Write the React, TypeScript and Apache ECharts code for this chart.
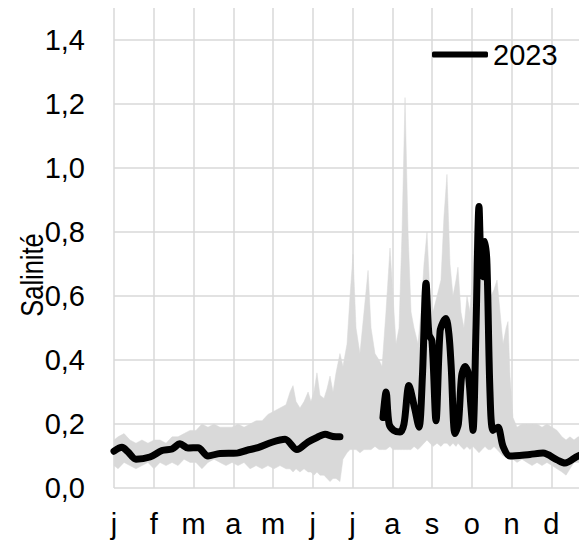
import React, { useEffect, useRef } from "react";
import * as echarts from "echarts";

const MONTHS = ["j", "f", "m", "a", "m", "j", "j", "a", "s", "o", "n", "d"];
const SERIES_NAME = "2023";
const Y_TITLE = "Salinité";

// Min-max envelope of earlier years (day of year, low, high)
const bandDay = [
  0, 3.1, 7.7, 12.2, 16.8, 21.4, 26.0, 30.6, 35.2, 39.8, 44.4, 49.0, 53.6, 58.2, 62.7, 67.3, 71.9,
  76.5, 81.1, 85.7, 90.3, 94.9, 99.5, 104.1, 108.7, 113.3, 117.8, 122.4, 127.0, 131.6, 134.7,
  137.0, 139.3, 142.3, 145.4, 148.5, 150.7, 153.0, 155.3, 157.6, 160.7, 163.0, 165.3, 167.6,
  169.9, 172.9, 175.2, 178.3, 180.6, 182.9, 185.2, 188.2, 191.3, 194.4, 196.7, 199.7, 202.8,
  205.1, 208.1, 211.2, 213.5, 215.8, 218.1, 220.4, 222.7, 225.0, 227.3, 229.6, 232.6, 234.9,
  237.2, 239.5, 241.8, 244.1, 247.2, 250.2, 252.5, 254.8, 257.1, 259.4, 261.7, 263.2, 265.5,
  267.8, 270.1, 272.4, 274.7, 277.0, 279.3, 281.6, 283.9, 286.2, 288.5, 290.8, 293.1, 295.4,
  297.7, 300.0, 301.5, 303.0, 305.3, 308.4, 312.2, 316.0, 319.9, 323.7, 327.5, 331.3, 335.2,
  339.0, 342.8, 345.9, 348.9, 352.0, 355.1, 365,
];
const bandLow = [
  0.07, 0.06, 0.08, 0.07, 0.06, 0.07, 0.08, 0.06, 0.08, 0.07, 0.08, 0.07, 0.09, 0.08, 0.08, 0.06,
  0.08, 0.09, 0.08, 0.07, 0.08, 0.07, 0.08, 0.06, 0.07, 0.06, 0.07, 0.06, 0.07, 0.06, 0.06,
  0.05, 0.06, 0.05, 0.06, 0.05, 0.05, 0.04, 0.05, 0.04, 0.04, 0.03, 0.02, 0.03, 0.03, 0.02,
  0.09, 0.11, 0.12, 0.12, 0.12, 0.11, 0.12, 0.12, 0.12, 0.13, 0.12, 0.12, 0.12, 0.13, 0.12,
  0.12, 0.12, 0.12, 0.12, 0.12, 0.12, 0.13, 0.12, 0.13, 0.14, 0.15, 0.14, 0.13, 0.14, 0.13,
  0.14, 0.14, 0.13, 0.14, 0.13, 0.14, 0.13, 0.12, 0.13, 0.12, 0.13, 0.12, 0.11, 0.12, 0.13,
  0.12, 0.12, 0.13, 0.12, 0.11, 0.1, 0.1, 0.09, 0.09, 0.09, 0.08, 0.09, 0.08, 0.07, 0.08, 0.07,
  0.08, 0.07, 0.06, 0.05, 0.04, 0.06, 0.08, 0.08, 0.08,
];
const bandHigh = [
  0.15, 0.16, 0.17, 0.15, 0.14, 0.15, 0.14, 0.15, 0.15, 0.14, 0.16, 0.16, 0.17, 0.18, 0.18, 0.2,
  0.19, 0.2, 0.19, 0.19, 0.19, 0.2, 0.19, 0.2, 0.21, 0.21, 0.23, 0.24, 0.25, 0.26, 0.3,
  0.32, 0.27, 0.25, 0.27, 0.3, 0.27, 0.3, 0.36, 0.29, 0.28, 0.31, 0.35, 0.3, 0.36, 0.42,
  0.38, 0.45, 0.6, 0.73, 0.5, 0.42, 0.55, 0.68, 0.5, 0.42, 0.4, 0.38, 0.55, 0.75, 0.6,
  0.45, 0.5, 0.8, 1.22, 0.8, 0.55, 0.5, 0.45, 0.55, 0.7, 0.8, 0.6, 0.55, 0.6, 0.65,
  0.85, 0.98, 0.7, 0.6, 0.65, 0.69, 0.55, 0.5, 0.6, 0.55, 0.7, 0.85, 0.89, 0.8, 0.75,
  0.7, 0.6, 0.62, 0.65, 0.55, 0.45, 0.5, 0.52, 0.35, 0.22, 0.19, 0.2, 0.2, 0.2, 0.2, 0.19,
  0.2, 0.19, 0.18, 0.16, 0.15, 0.16, 0.15, 0.16, 0.16,
];

// 2023 salinity, first part (Jan - Jun)
const line1Day = [
  0, 6.1, 10.7, 16.8, 27.5, 36.7, 44.4, 50.5, 56.6, 64.3, 71.9, 81.1, 94.1, 101.8, 110.2,
  120.9, 130.9, 140.0, 148.5, 155.3, 161.5, 167.6, 172.9,
];
const line1Val = [
  0.115, 0.127, 0.113, 0.09, 0.097, 0.117, 0.122, 0.138, 0.125, 0.126, 0.1, 0.108, 0.109,
  0.118, 0.126, 0.143, 0.152, 0.12, 0.144, 0.158, 0.168, 0.161, 0.16,
];
// 2023 salinity, second part (Aug - Dec)
const line2Day = [
  205.8, 208.2, 210.5, 214.0, 218.9, 221.9, 225.7, 230.0, 233.4, 236.0, 238.8, 241.0, 243.3,
  246.4, 249.5, 252.0, 254.0, 256.3, 258.0, 260.9, 263.5, 266.0, 268.6, 271.0, 273.2, 274.7,
  277.0, 279.3, 280.8, 282.4, 283.9, 285.4, 287.7, 290.0, 293.8, 297.7, 303.0, 318.3, 328.3,
  339.0, 345.1, 355.1, 365,
];
const line2Val = [
  0.22, 0.3, 0.2, 0.18, 0.175, 0.2, 0.32, 0.25, 0.19, 0.35, 0.64, 0.48, 0.46, 0.21, 0.49, 0.52,
  0.53, 0.48, 0.38, 0.17, 0.2, 0.35, 0.38, 0.36, 0.25, 0.18, 0.5, 0.88, 0.7, 0.66, 0.77, 0.7,
  0.3, 0.18, 0.19, 0.13, 0.1, 0.105, 0.109, 0.088, 0.078, 0.1, 0.11,
];

const FONT = "'Liberation Sans', Arial, sans-serif";
const FONT_SIZE = 29;
const GRID_COLOR = "#d9d9d9";
const BAND_COLOR = "#d9d9d9";

const toMonth = (d: number) => (d * 12) / 365;

export default function App() {
  const ref = useRef<HTMLDivElement>(null);
  useEffect(() => {
    if (!ref.current) return;
    const chart = echarts.init(ref.current, undefined, { renderer: "svg" });

    const bandData = bandDay.map((d, i) => [toMonth(d), bandLow[i], bandHigh[i]]);
    const lineData: any[] = [
      ...line1Day.map((d, i) => [toMonth(d), line1Val[i]]),
      [toMonth(190), null],
      ...line2Day.map((d, i) => [toMonth(d), line2Val[i]]),
    ];

    chart.setOption({
      animation: false,
      grid: { left: 114, top: 8, width: 477, height: 480, containLabel: false },
      xAxis: {
        type: "value",
        min: 0,
        max: 12,
        interval: 1,
        axisLine: { show: false },
        axisTick: { show: false },
        splitLine: { show: true, lineStyle: { color: GRID_COLOR, width: 1.5 } },
        axisLabel: {
          margin: 21,
          color: "#000",
          fontFamily: FONT,
          fontSize: FONT_SIZE,
          formatter: (v: number) => MONTHS[Math.round(v)] ?? "",
        },
      },
      yAxis: {
        type: "value",
        min: 0,
        max: 1.5,
        interval: 0.2,
        axisLine: { show: false },
        axisTick: { show: false },
        splitLine: { show: true, showMaxLine: false, lineStyle: { color: GRID_COLOR, width: 1.5 } },
        axisLabel: {
          margin: 29,
          color: "#000",
          fontFamily: FONT,
          fontSize: FONT_SIZE,
          formatter: (v: number) => (v > 1.45 ? "" : v.toFixed(1).replace(".", ",")),
        },
      },
      legend: {
        data: [SERIES_NAME],
        left: 432,
        top: 40,
        padding: 0,
        icon: "roundRect",
        itemWidth: 56,
        itemHeight: 6,
        itemStyle: { color: "#000" },
        textStyle: { fontFamily: FONT, fontSize: FONT_SIZE, color: "#000" },
      },
      graphic: [
        {
          type: "text",
          x: 32,
          y: 275,
          rotation: Math.PI / 2,
          scaleX: 0.82,
          style: {
            text: Y_TITLE,
            font: `31px ${FONT}`,
            fill: "#000",
            align: "center",
            verticalAlign: "middle",
          },
        },
      ],
      series: [
        {
          type: "custom",
          silent: true,
          z: 1,
          data: bandData,
          encode: { x: 0, y: [1, 2] },
          renderItem: (params: any, api: any) => {
            if (params.dataIndex !== 0) return null;
            const pts: number[][] = [];
            for (let i = 0; i < bandData.length; i++) pts.push(api.coord([bandData[i][0], bandData[i][2]]));
            for (let i = bandData.length - 1; i >= 0; i--) pts.push(api.coord([bandData[i][0], bandData[i][1]]));
            return {
              type: "polygon",
              shape: { points: pts },
              style: { fill: BAND_COLOR, stroke: BAND_COLOR, lineWidth: 0.5 },
            };
          },
        },
        {
          name: SERIES_NAME,
          type: "line",
          z: 3,
          data: lineData,
          showSymbol: false,
          symbol: "none",
          connectNulls: false,
          smooth: 0.3,
          color: "#000",
          lineStyle: { color: "#000", width: 7, cap: "round", join: "round" },
        },
      ],
    });
    return () => chart.dispose();
  }, []);

  return (
    <div
      ref={ref}
      style={{ position: "fixed", left: 0, top: 0, width: 620, height: 545, background: "#fff" }}
    />
  );
}
